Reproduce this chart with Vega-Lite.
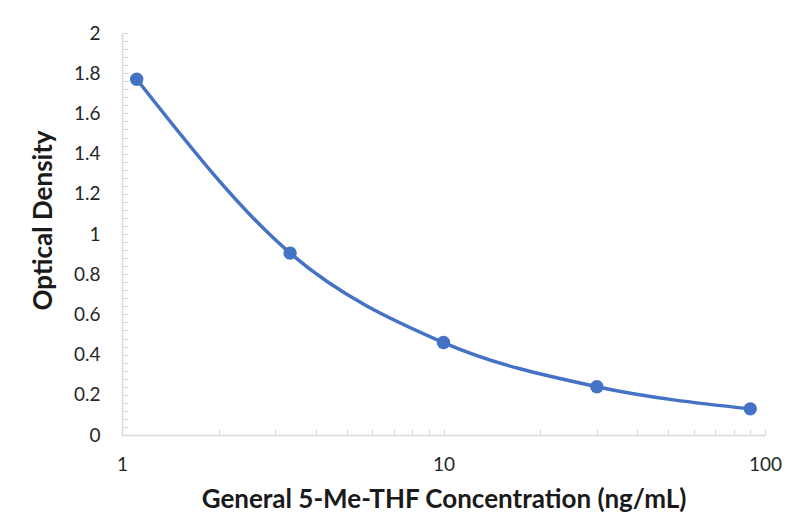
{
  "$schema": "https://vega.github.io/schema/vega-lite/v6.json",
  "autosize": "none",
  "padding": {"left": 122, "top": 33, "right": 33, "bottom": 88},
  "width": 643,
  "height": 402,
  "background": "white",
  "config": {
    "view": {"stroke": null},
    "font": "Lato",
    "axis": {"grid": false, "domainColor": "#d9d9d9", "tickColor": "#d9d9d9", "domainWidth": 1.5, "tickWidth": 1.2, "labelColor": "#262626", "titleColor": "#1a1a1a", "labelFontSize": 19, "titleFontSize": 26, "titleFontWeight": "bold", "labelFont": "Lato", "titleFont": "Lato"}
  },
  "data": {"values": [
    {"conc": 1.111, "od": 1.77},
    {"conc": 3.333, "od": 0.905},
    {"conc": 10, "od": 0.46},
    {"conc": 30, "od": 0.24},
    {"conc": 90, "od": 0.13}
  ]},
  "encoding": {
    "x": {"field": "conc", "type": "quantitative",
      "scale": {"type": "log", "domain": [1, 100], "nice": false},
      "axis": {"title": "General 5-Me-THF Concentration (ng/mL)", "values": [1,2,3,4,5,6,7,8,9,10,20,30,40,50,60,70,80,90,100],
        "labelExpr": "(datum.value == 1 || datum.value == 10 || datum.value == 100) ? datum.value : ''",
        "tickSize": -6, "labelPadding": 26, "titlePadding": 12, "labelFlush": false, "labelOverlap": false}},
    "y": {"field": "od", "type": "quantitative",
      "scale": {"domain": [0, 2], "nice": false, "zero": true},
      "axis": {"title": "Optical Density", "values": [0,0.04,0.08,0.12,0.16,0.2,0.24,0.28,0.32,0.36,0.4,0.44,0.48,0.52,0.56,0.6,0.64,0.68,0.72,0.76,0.8,0.84,0.88,0.92,0.96,1,1.04,1.08,1.12,1.16,1.2,1.24,1.28,1.32,1.36,1.4,1.44,1.48,1.52,1.56,1.6,1.64,1.68,1.72,1.76,1.8,1.84,1.88,1.92,1.96,2],
        "labelExpr": "abs(datum.value*5 - round(datum.value*5)) < 0.001 ? format(datum.value, '.1~f') : ''",
        "tickSize": -6, "labelPadding": 28, "titlePadding": 17, "titleY": 187, "labelOverlap": false, "labelFlush": false}}
  },
  "layer": [
    {"mark": {"type": "line", "interpolate": "monotone", "color": "#4472C4", "strokeWidth": 3.5}},
    {"mark": {"type": "point", "filled": true, "color": "#4472C4", "size": 180, "opacity": 1}}
  ]
}
